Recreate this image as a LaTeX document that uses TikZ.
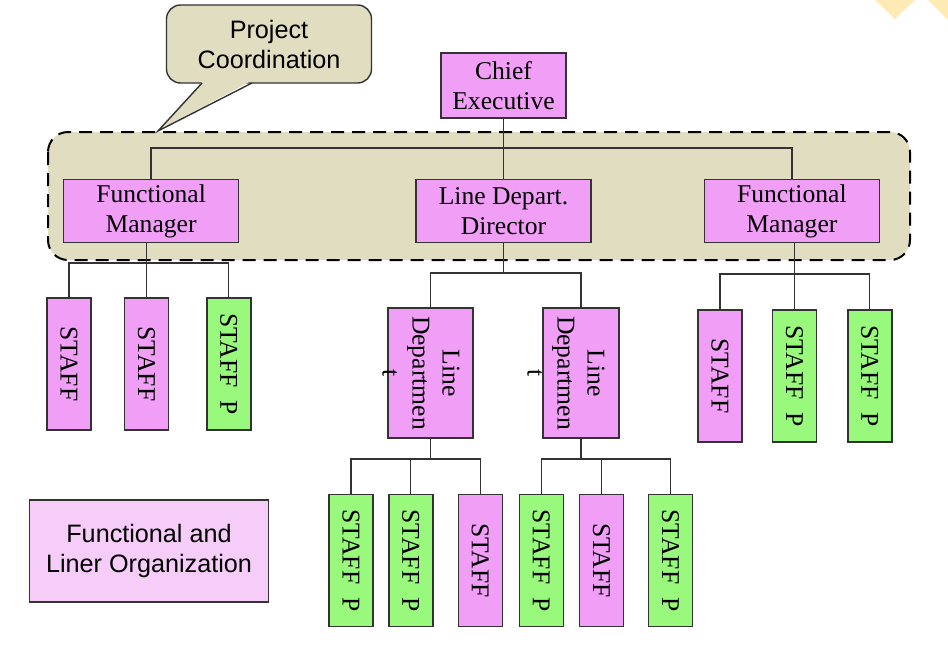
\documentclass[tikz,border=0pt]{standalone}
\usepackage{fontspec}
\setmainfont{Liberation Serif}
\setsansfont{Liberation Sans}
\usetikzlibrary{positioning}

\definecolor{boxpink}{HTML}{F09EF6}
\definecolor{boxgreen}{HTML}{98F97C}
\definecolor{bandtan}{HTML}{E0DDC1}
\definecolor{notepink}{HTML}{F6CCF9}
\definecolor{cornergold}{HTML}{FDEAB5}

\newcommand{\sidetext}[1]{\rotatebox{-90}{#1}}

\begin{document}
\begin{tikzpicture}[x=0.5pt, y=-0.5pt,
    wire/.style={draw=black!80, line width=0.65pt},
    orgbox/.style={rectangle, draw=black!80, line width=0.7pt, fill=boxpink, inner sep=0pt, align=center, font=\fontsize{12.8}{15}\selectfont},
    staffbox/.style={orgbox, minimum width=22pt, minimum height=66pt},
    staffpbox/.style={staffbox, fill=boxgreen}]
    \def\headw{87.5pt}
    \def\headh{31.5pt}
    \def\ldh{65pt}

    \useasboundingbox (0,0) rectangle (948,670);

    % corner marks
    \fill[cornergold] (875,0) -- (895,19) -- (915,0) -- cycle;
    \fill[cornergold] (928,0) -- (948,20) -- (948,0) -- cycle;

    % dashed band
    \draw[fill=bandtan, dashed, dash pattern=on 6.5pt off 4pt, line width=1pt, rounded corners=10pt] (48,132) rectangle (910,260);

    % callout
    \coordinate (tip) at (158,131);
    \node[rectangle, rounded corners=7pt, draw=black!80, line width=0.7pt, fill=bandtan, minimum width=102.5pt, minimum height=39pt, align=center, font=\sffamily\fontsize{12.6}{15}\selectfont] (pc) at (269,44) {Project\\Coordination};
    \fill[bandtan] (203,81) -- (tip) -- (251,81) -- cycle;
    \draw[black!80, line width=0.7pt] (202,83) -- (tip) -- (252,83);

    % top levels
    \node[orgbox, minimum width=62.5pt, minimum height=32.5pt] (chief) at (503.5,85.5) {Chief\\Executive};
    \node[orgbox, minimum width=\headw, minimum height=\headh, below=30pt of chief] (ldd) {Line Depart.\\Director};
    \node[orgbox, minimum width=\headw, minimum height=\headh, left=88pt of ldd] (fml) {Functional\\Manager};
    \node[orgbox, minimum width=\headw, minimum height=\headh, right=56pt of ldd] (fmr) {Functional\\Manager};

    % line departments
    \node[orgbox, minimum width=42.5pt, minimum height=\ldh] (ld1) at (430.5,373) {};
    \node[orgbox, minimum width=38pt, minimum height=\ldh] (ld2) at (581,373) {};
    \node[rotate=-90, align=center, inner sep=0pt, font=\fontsize{12.8}{15}\selectfont] (ld1t) at (421,373) {Line\\Departmen\\t};
    \node[rotate=-90, align=center, inner sep=0pt, font=\fontsize{12.8}{15}\selectfont] (ld2t) at (566,373) {Line\\Departmen\\t};

    % staff under left manager
    \node[staffbox] (s1) at (69,364) {\sidetext{STAFF}};
    \node[staffbox, right=16pt of s1] (s2) {\sidetext{STAFF}};
    \node[staffpbox, right=18.5pt of s2] (s3) {\sidetext{STAFF\ \ P}};

    % staff under right manager
    \node[staffbox] (r1) at (720,376) {\sidetext{STAFF}};
    \node[staffpbox, right=14.5pt of r1] (r2) {\sidetext{STAFF\ \ P}};
    \node[staffpbox, right=15pt of r2] (r3) {\sidetext{STAFF\ \ P}};

    % staff under line departments
    \node[staffpbox] (b1) at (351,560.5) {\sidetext{STAFF\ \ P}};
    \node[staffpbox, right=7.2pt of b1] (b2) {\sidetext{STAFF\ \ P}};
    \node[staffbox, right=12pt of b2] (b3) {\sidetext{STAFF}};
    \node[staffpbox, right=7.8pt of b3] (b4) {\sidetext{STAFF\ \ P}};
    \node[staffbox, right=7.4pt of b4] (b5) {\sidetext{STAFF}};
    \node[staffpbox, right=11.8pt of b5] (b6) {\sidetext{STAFF\ \ P}};

    % note
    \node[rectangle, draw=black!80, line width=0.7pt, fill=notepink, minimum width=119.5pt, minimum height=51pt, align=center, font=\sffamily\fontsize{12.6}{15}\selectfont] (note) at (149,551) {Functional and\\Liner Organization};

    % connectors
    \coordinate (topbus) at (0,148);
    \coordinate (lbus) at (0,263);
    \coordinate (mbus) at (0,273);
    \coordinate (rbus) at (0,274);
    \coordinate (b1bus) at (0,459);
    \draw[wire] (chief) -- (ldd);
    \draw[wire] (fml.north) |- (topbus -| fmr.north) -- (fmr.north);
    \draw[wire] (s2.north) -- (s2.north |- fml.south);
    \draw[wire] (s1.north) |- (lbus -| s3.north) -- (s3.north);
    \draw[wire] (r2.north) -- (r2.north |- fmr.south);
    \draw[wire] (r1.north) |- (rbus -| r3.north) -- (r3.north);
    \draw[wire] (ldd.south) -- (ldd.south |- mbus);
    \draw[wire] (ld1.north) |- (mbus -| ld2.north) -- (ld2.north);
    \draw[wire] (ld1.south) -- (ld1.south |- b1bus);
    \draw[wire] (b1.north) |- (b1bus -| b3.north) -- (b3.north);
    \draw[wire] (b2.north) -- (b2.north |- b1bus);
    \draw[wire] (ld2.south) -- (ld2.south |- b1bus);
    \draw[wire] (b4.north) |- (b1bus -| b6.north) -- (b6.north);
    \draw[wire] (b5.north) -- (b5.north |- b1bus);
\end{tikzpicture}
\end{document}
